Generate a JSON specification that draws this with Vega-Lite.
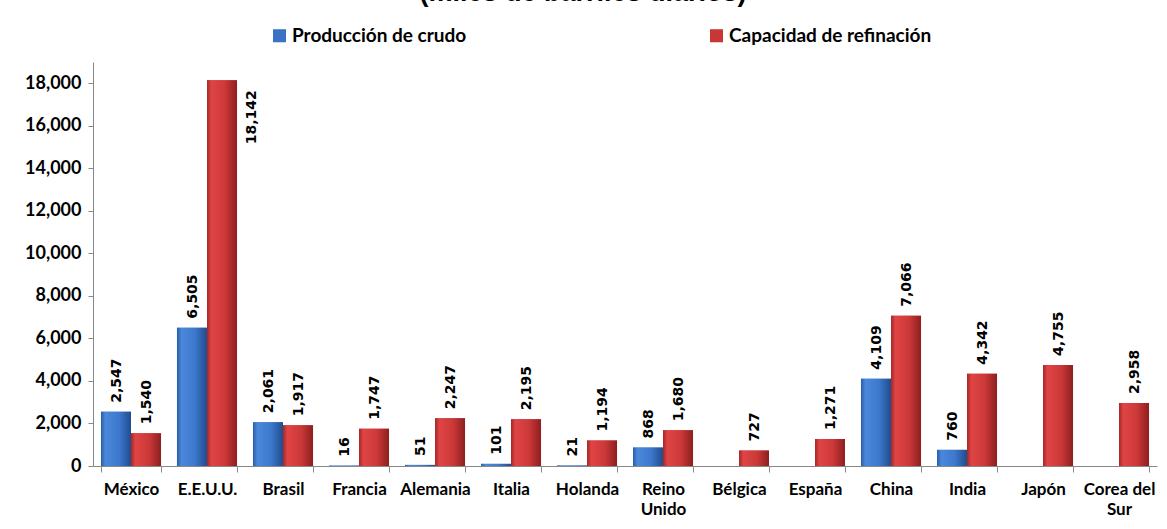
{
  "$schema": "https://vega.github.io/schema/vega-lite/v6.json",
  "width": 1064,
  "height": 404,
  "autosize": {"type": "none"},
  "padding": {"left": 93, "top": 62, "right": 10, "bottom": 63},
  "background": "white",
  "title": {
    "text": "(miles de barriles diarios)",
    "font": "Liberation Sans",
    "fontWeight": "bold",
    "fontSize": 27,
    "color": "black",
    "anchor": "middle",
    "offset": 19,
    "dx": -42
  },
  "config": {"view": {"stroke": null}},
  "data": {
    "values": [
      {"pais": "México", "serie": "Producción de crudo", "valor": 2547},
      {"pais": "México", "serie": "Capacidad de refinación", "valor": 1540},
      {"pais": "E.E.U.U.", "serie": "Producción de crudo", "valor": 6505},
      {"pais": "E.E.U.U.", "serie": "Capacidad de refinación", "valor": 18142},
      {"pais": "Brasil", "serie": "Producción de crudo", "valor": 2061},
      {"pais": "Brasil", "serie": "Capacidad de refinación", "valor": 1917},
      {"pais": "Francia", "serie": "Producción de crudo", "valor": 16},
      {"pais": "Francia", "serie": "Capacidad de refinación", "valor": 1747},
      {"pais": "Alemania", "serie": "Producción de crudo", "valor": 51},
      {"pais": "Alemania", "serie": "Capacidad de refinación", "valor": 2247},
      {"pais": "Italia", "serie": "Producción de crudo", "valor": 101},
      {"pais": "Italia", "serie": "Capacidad de refinación", "valor": 2195},
      {"pais": "Holanda", "serie": "Producción de crudo", "valor": 21},
      {"pais": "Holanda", "serie": "Capacidad de refinación", "valor": 1194},
      {"pais": "Reino Unido", "serie": "Producción de crudo", "valor": 868},
      {"pais": "Reino Unido", "serie": "Capacidad de refinación", "valor": 1680},
      {"pais": "Bélgica", "serie": "Capacidad de refinación", "valor": 727},
      {"pais": "España", "serie": "Capacidad de refinación", "valor": 1271},
      {"pais": "China", "serie": "Producción de crudo", "valor": 4109},
      {"pais": "China", "serie": "Capacidad de refinación", "valor": 7066},
      {"pais": "India", "serie": "Producción de crudo", "valor": 760},
      {"pais": "India", "serie": "Capacidad de refinación", "valor": 4342},
      {"pais": "Japón", "serie": "Capacidad de refinación", "valor": 4755},
      {"pais": "Corea del Sur", "serie": "Capacidad de refinación", "valor": 2958}
    ]
  },
  "encoding": {
    "x": {
      "field": "pais",
      "type": "nominal",
      "sort": null,
      "scale": {"paddingInner": 0.21, "paddingOuter": 0.105},
      "axis": {
        "title": null,
        "labelAngle": 0,
        "labelFont": "Lato",
        "labelFontWeight": "bold",
        "labelFontSize": 17,
        "labelColor": "black",
        "labelPadding": 9,
        "labelLineHeight": 20,
        "labelExpr": "datum.label == 'Reino Unido' ? ['Reino', 'Unido'] : datum.label == 'Corea del Sur' ? ['Corea del', 'Sur'] : datum.label",
        "tickBand": "extent",
        "tickSize": 6,
        "tickColor": "#888888",
        "domainColor": "#888888",
        "labelOverlap": false
      }
    },
    "xOffset": {
      "field": "serie",
      "type": "nominal",
      "sort": ["Producción de crudo", "Capacidad de refinación"],
      "scale": {"paddingInner": 0, "paddingOuter": 0}
    },
    "y": {
      "field": "valor",
      "type": "quantitative",
      "scale": {"domain": [0, 19000], "nice": false},
      "axis": {
        "title": null,
        "grid": false,
        "values": [0, 2000, 4000, 6000, 8000, 10000, 12000, 14000, 16000, 18000],
        "format": ",.0f",
        "labelFont": "Lato",
        "labelFontWeight": "bold",
        "labelFontSize": 18,
        "labelColor": "black",
        "labelPadding": 7,
        "tickSize": 5,
        "tickColor": "#888888",
        "domainColor": "#888888"
      }
    }
  },
  "layer": [
    {
      "mark": {"type": "bar"},
      "encoding": {
        "color": {
          "field": "serie",
          "type": "nominal",
          "sort": ["Producción de crudo", "Capacidad de refinación"],
          "scale": {
            "domain": ["Producción de crudo", "Capacidad de refinación"],
            "range": ["#3a72c4", "#c83636"]
          },
          "legend": {
            "title": null,
            "orient": "none",
            "legendX": 177,
            "legendY": -36,
            "direction": "horizontal",
            "columns": 2,
            "columnPadding": 240,
            "symbolType": "square",
            "symbolSize": 170,
            "symbolStrokeWidth": 0,
            "labelFont": "Lato",
            "labelFontWeight": "bold",
            "labelFontSize": 19,
            "labelColor": "black",
            "labelOffset": 3,
            "labelLimit": 400
          }
        }
      }
    },
    {
      "transform": [{"filter": "datum.serie == 'Producción de crudo'"}],
      "mark": {"type": "bar", "fill": {"gradient": "linear", "x1": 0, "x2": 1, "y1": 0, "y2": 0,
               "stops": [{"offset": 0, "color": "#2b5ca8"}, {"offset": 0.15, "color": "#4a88dc"}, {"offset": 0.6, "color": "#3d78cc"}, {"offset": 1, "color": "#214c8e"}]}}
    },
    {
      "transform": [{"filter": "datum.serie == 'Capacidad de refinación'"}],
      "mark": {"type": "bar", "fill": {"gradient": "linear", "x1": 0, "x2": 1, "y1": 0, "y2": 0,
               "stops": [{"offset": 0, "color": "#a42828"}, {"offset": 0.15, "color": "#e04545"}, {"offset": 0.6, "color": "#cc3838"}, {"offset": 1, "color": "#8c1f1f"}]}}
    },
    {
      "transform": [{"filter": "datum.valor < 17000"}],
      "mark": {"type": "text", "angle": 270, "align": "left", "baseline": "middle", "dx": 9, "dy": 1, "font": "DejaVu Sans", "fontWeight": "bold", "fontSize": 14, "color": "black"},
      "encoding": {"text": {"field": "valor", "type": "quantitative", "format": ","}}
    },
    {
      "transform": [{"filter": "datum.valor >= 17000"}],
      "mark": {"type": "text", "angle": 270, "align": "right", "baseline": "middle", "dx": -10, "dy": 30, "font": "DejaVu Sans", "fontWeight": "bold", "fontSize": 14, "color": "black"},
      "encoding": {"text": {"field": "valor", "type": "quantitative", "format": ","}}
    }
  ]
}
